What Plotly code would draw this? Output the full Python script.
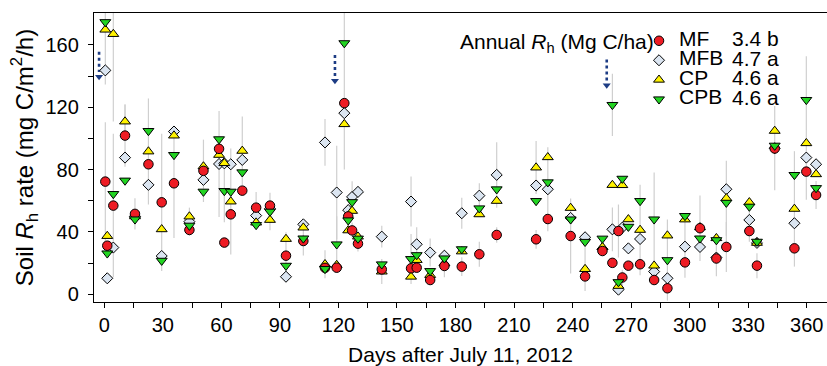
import plotly.graph_objects as go

# ---------------- data ----------------
days = [0.5, 1.5, 4.6, 10.6, 15.7, 22.6, 29.4, 35.7, 43.6, 50.8, 58.8, 61.5, 64.8, 70.7,
        77.8, 84.9, 93.1, 102, 113.1, 119.1, 123, 125, 127, 130, 142.2, 157.2, 160.1,
        167, 174.3, 183.2, 192.2, 201.1, 221.3, 227.3, 239, 246.4, 255.3, 260.4, 263.5,
        265.5, 268.6, 274.6, 281.8, 288.6, 297.6, 305.3, 313.7, 318.8, 330.6, 334.5,
        343.6, 353.7, 359.8, 364.8]

mf = [72.3, 31.2, 56.9, 101.8, 51.6, 83.4, 59, 71.2, 41.3, 79.2, 93.3, 33.2, 51.3, 66.5,
      55.6, 56.9, 24.8, 34.2, 17, 17.1, 122.6, 50, 41, 32.5, 16, 16.7, 17.1,
      9.2, 18.2, 17.8, 25.7, 38.1, 35.3, 48.3, 37.4, 11.5, 27.8, 20.2, 40.6,
      10.8, 18.4, 19.3, 9.2, 3.9, 20.5, 42.4, 23, 30.4, 40.6, 18.4,
      93.5, 29.5, 78.7, 63.7]
mfb = [143.6, 10.3, 30, 87.7, 50, 70.2, 24.6, 104.4, 46.6, 73.4, 83.6, 84, 83.4, 86.2,
       50.5, 55, 11.3, 44.9, 97.4, 65.3, 116.2, 54, 62.5, 65.7, 37, 59.5, 32.1,
       26.8, 24.8, 52, 63.3, 76.6, 69.8, 67.4, 49, 36.6, 29, 41.7, 3,
       42.8, 29.5, 35.5, 14.6, 10.3, 30.6, 30.4, 23.6, 67.4, 47.7, 33,
       93.7, 45.6, 87.7, 83.4]
cp = [169.7, 37.4, 166.9, 110.8, 50, 91.6, 41.7, 101.8, 49.9, 82, 89.4, 84.1, 59.5, 92,
      46, 47.7, 35.5, 42.8, 19.3, 18.8, 109.1, 41, 53.5, 37, 14.6, 11.3, 22,
      12.4, 19.9, 27.5, 51.3, 59.9, 81.3, 87.9, 55.4, 16.2, 30.3, 70.1, 5.4,
      70, 48.1, 41.3, 18.4, 37.7, 48, 43, 36, 61.6, 59, 33,
      104.8, 54.8, 96.9, 77]
cpb = [174.6, 26.3, 64.4, 73, 48.1, 104.8, 21.6, 89.4, 44.1, 65.9, 99.5, 66.3, 65.9, 78.3,
       44.5, 53.1, 18.4, 35.9, 16.3, 32.1, 161.1, 47.5, 59.2, 35.8, 19.3, 22.7, 25.2,
       15, 23.1, 29, 55.2, 67.4, 59.9, 71.9, 48.1, 33.7, 35.8, 121.5, 7.9,
       74.2, 43.4, 59.9, 48.1, 22, 50.3, 35.9, 34.8, 58.8, 56.3, 33.8,
       95.4, 76.6, 124.7, 68.2]

# error bars (± SE, estimated from grey whiskers)
mf_err = [38, 0, 46, 20, 10, 0, 44, 35, 0, 20, 0, 0, 0, 0,
          10, 0, 15, 0, 0, 0, 0, 8, 5, 5, 0, 0, 0,
          0, 0, 6, 8, 5, 6, 0, 24, 0, 0, 0, 17,
          5, 0, 0, 0, 0, 0, 21, 0, 16, 0, 8,
          0, 0, 18, 9]
mfb_err = [0, 0, 0, 0, 0, 0, 0, 0, 9, 0, 34, 0, 0, 0,
           0, 0, 0, 0, 15, 30, 0, 0, 10, 0, 7, 16, 11,
           9, 0, 10, 8, 21, 0, 27, 0, 0, 0, 14, 0,
           0, 0, 0, 0, 0, 20, 0, 12, 0, 14, 0,
           27, 0, 0, 0]
cp_err = [0, 0, 56, 11, 0, 34, 0, 0, 0, 0, 0, 0, 34, 22,
          0, 0, 0, 0, 9, 0, 0, 0, 0, 0, 8, 0, 0,
          0, 9, 0, 0, 0, 17, 0, 0, 14, 0, 0, 0,
          0, 0, 29, 0, 0, 0, 0, 0, 24, 0, 0,
          0, 37, 0, 0]
cpb_err = [40, 0, 0, 0, 0, 0, 0, 0, 0, 0, 0, 20, 0, 0,
           0, 12, 0, 11, 0, 18, 81, 0, 0, 0, 0, 16, 0,
           0, 0, 0, 0, 0, 0, 0, 0, 0, 0, 20, 0,
           0, 0, 0, 30, 26, 0, 0, 0, 0, 0, 0,
           0, 0, 28, 0]

series_names = ["MF", "MFB", "CP", "CPB"]
annual_rh = ["3.4 b", "4.7 a", "4.6 a", "4.6 a"]

# dotted arrows marking events
arrow_days = [-2.7, 118.2, 257.5]
arrow_top = [155.5, 153.4, 150.6]
arrow_tip = [139.5, 137.0, 134.0]

x_tickvals = list(range(0, 361, 15))
x_ticktext = [str(v) if v % 30 == 0 else "" for v in x_tickvals]
y_tickvals = list(range(0, 161, 20))
y_ticktext = [str(v) if v % 40 == 0 else "" for v in y_tickvals]

# ---------------- styling ----------------
FONT = "Arial, Liberation Sans, Helvetica, sans-serif"
styles = {
    "MF": dict(symbol="circle", color="#ee1c24", size=9.5, rank=1),
    "MFB": dict(symbol="diamond", color="#dbe5f1", size=8.5, rank=2),
    "CP": dict(symbol="triangle-up", color="#fff200", size=9.5, rank=3),
    "CPB": dict(symbol="triangle-down", color="#22d422", size=9.5, rank=4),
}
vals = {"MF": mf, "MFB": mfb, "CP": cp, "CPB": cpb}
errs = {"MF": mf_err, "MFB": mfb_err, "CP": cp_err, "CPB": cpb_err}

fig = go.Figure()

# whiskers first (behind all markers)
for name in series_names:
    fig.add_trace(go.Scatter(
        x=days, y=vals[name], mode="markers",
        marker=dict(size=1, color="rgba(0,0,0,0)"),
        error_y=dict(type="data", array=errs[name], visible=True,
                     color="#cfcfcf", thickness=1.2, width=0),
        showlegend=False, hoverinfo="skip"))

# event arrows
ax, ay = [], []
for d, t0, t1 in zip(arrow_days, arrow_top, arrow_tip):
    ax += [d, d, None]
    ay += [t0, t1 + 3, None]
fig.add_trace(go.Scatter(x=ax, y=ay, mode="lines",
                         line=dict(color="#1d3c84", width=2.6, dash="dot"),
                         showlegend=False, hoverinfo="skip"))
fig.add_trace(go.Scatter(x=arrow_days, y=arrow_tip, mode="markers",
                         marker=dict(symbol="triangle-down", size=7, color="#1d3c84"),
                         showlegend=False, hoverinfo="skip"))

# markers (drawing order: MFB, CP, MF, CPB)
for name in ["MFB", "CP", "MF", "CPB"]:
    s = styles[name]
    fig.add_trace(go.Scatter(
        x=days, y=vals[name], mode="markers",
        name='<span style="font-size:21px">%s</span>' % name,
        legendrank=s["rank"],
        marker=dict(symbol=s["symbol"], color=s["color"], size=s["size"],
                    line=dict(color="black", width=1))))

# ---------------- layout ----------------
L, R, T, B = 94, 0, 13, 64
W, H = 827, 366
pw, ph = W - L - R, H - T - B

def px_x(xp):
    return (xp - L) / pw

def px_y(yp):
    return (H - B - yp) / ph

annotations = [dict(
    x=px_x(656), y=px_y(43), xref="paper", yref="paper",
    xanchor="right", yanchor="middle", showarrow=False,
    text="Annual <i>R</i><sub>h</sub> (Mg C/ha)",
    font=dict(family=FONT, size=21, color="black"))]
row_y = [38.5, 58.0, 77.5, 97.0]
for i, txt in enumerate(annual_rh):
    annotations.append(dict(
        x=px_x(731), y=px_y(row_y[i]), xref="paper", yref="paper",
        xanchor="left", yanchor="middle", showarrow=False, text=txt,
        borderpad=0,
        font=dict(family=FONT, size=21, color="black")))

fig.update_layout(
    width=W, height=H,
    margin=dict(l=L, r=R, t=T, b=B, pad=0),
    paper_bgcolor="white", plot_bgcolor="white",
    font=dict(family=FONT, size=20, color="black"),
    showlegend=True,
    legend=dict(x=px_x(639), y=px_y(26), xanchor="left", yanchor="top",
                bgcolor="rgba(0,0,0,0)", borderwidth=0,
                font=dict(family=FONT, size=12.7, color="black"),
                itemsizing="trace", traceorder="normal"),
    annotations=annotations,
    xaxis=dict(range=[-5.3, 370.4], tickvals=x_tickvals, ticktext=x_ticktext,
               ticks="outside", ticklen=5, tickwidth=1.2, tickcolor="black",
               showline=True, linecolor="black", linewidth=1.4, mirror=True,
               showgrid=False, zeroline=False,
               tickfont=dict(family=FONT, size=20),
               title=dict(text="Days after July 11, 2012",
                          font=dict(family=FONT, size=21), standoff=12)),
    yaxis=dict(range=[-4.9, 180.4], tickvals=y_tickvals, ticktext=y_ticktext,
               ticks="outside", ticklen=5, tickwidth=1.2, tickcolor="black",
               showline=True, linecolor="black", linewidth=1.4,
               showgrid=False, zeroline=False, ticklabelstandoff=5,
               tickfont=dict(family=FONT, size=20),
               title=dict(text="Soil <i>R</i><sub>h</sub> rate (mg C/m<sup>2</sup>/h)",
                          font=dict(family=FONT, size=24), standoff=5)),
)

fig.write_html("out.html")
